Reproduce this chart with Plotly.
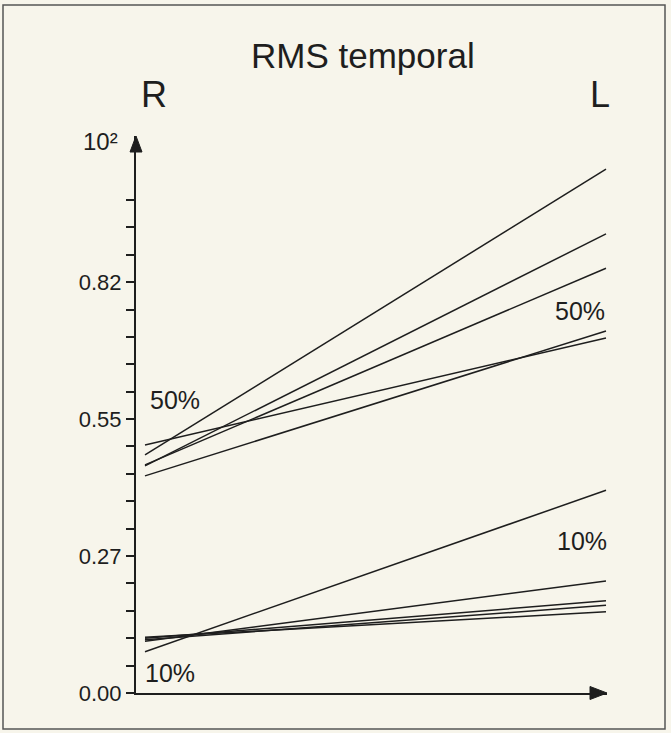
import plotly.graph_objects as go

# ---- data ----
sides = ["R", "L"]
group50_R = [0.478, 0.456, 0.458, 0.498, 0.436]
group50_L = [1.052, 0.922, 0.853, 0.713, 0.727]
group10_R = [0.083, 0.104, 0.110, 0.107, 0.112]
group10_L = [0.407, 0.225, 0.185, 0.176, 0.163]
tick_vals = [0.0, 0.275, 0.55, 0.825]
tick_text = ["0.00", "0.27", "0.55", "0.82"]
minor_vals = [0.055, 0.11, 0.165, 0.22, 0.33, 0.385, 0.44, 0.495,
              0.605, 0.66, 0.715, 0.77, 0.88, 0.935, 0.99]
top_label = "10\u00b2"

W, H = 671, 733
L_PX, R_PX, T_PX, B_PX = 136, 607, 136, 693
X0_PX, X1_PX = 145, 606          # pixel of R (x=0) and L (x=1)
PX_PER_Y = 498.0
sx = X1_PX - X0_PX
xr = [(L_PX - X0_PX) / sx, (R_PX - X0_PX) / sx]
yr = [0.0, (B_PX - T_PX) / PX_PER_Y]

def xp(px):
    return (px - L_PX) / (R_PX - L_PX)

def yp(py):
    return (B_PX - py) / (B_PX - T_PX)

INK = "#1e1e1e"
BG = "#f7f5eb"
FONT = "Liberation Sans, Arial, Helvetica, sans-serif"

fig = go.Figure()
for a, b in zip(group50_R, group50_L):
    fig.add_trace(go.Scatter(x=[0, 1], y=[a, b], mode="lines",
                             line=dict(color=INK, width=1.5), showlegend=False,
                             hoverinfo="skip"))
for a, b in zip(group10_R, group10_L):
    fig.add_trace(go.Scatter(x=[0, 1], y=[a, b], mode="lines",
                             line=dict(color=INK, width=1.5), showlegend=False,
                             hoverinfo="skip"))

fig.update_layout(
    width=W, height=H,
    margin=dict(l=L_PX, r=W - R_PX, t=T_PX, b=H - B_PX, pad=0),
    paper_bgcolor=BG, plot_bgcolor=BG,
    font=dict(family=FONT, color=INK),
    showlegend=False,
    xaxis=dict(range=xr, showgrid=False, zeroline=False, showticklabels=False,
               ticks="", showline=True, linecolor=INK, linewidth=2),
    yaxis=dict(range=yr, showgrid=False, zeroline=False, showline=True,
               linecolor=INK, linewidth=2,
               tickmode="array", tickvals=tick_vals, ticktext=tick_text,
               ticks="outside", ticklen=8, tickwidth=1.5, tickcolor=INK,
               tickfont=dict(size=22, family=FONT, color=INK),
               minor=dict(tickmode="array", tickvals=minor_vals, ticks="outside",
                          ticklen=8, tickwidth=1.5, tickcolor=INK, showgrid=False)),
)

shapes = [
    # y-axis arrowhead
    dict(type="path", xref="paper", yref="paper", xsizemode="pixel", ysizemode="pixel",
         xanchor=0, yanchor=1, path="M-6,-16 L6,-16 L0,0 Z",
         fillcolor=INK, line=dict(color=INK, width=1)),
    # x-axis arrowhead
    dict(type="path", xref="paper", yref="paper", xsizemode="pixel", ysizemode="pixel",
         xanchor=1, yanchor=0, path="M0,0 L-17,6.5 L-17,-6.5 Z",
         fillcolor=INK, line=dict(color=INK, width=1)),
    # frame
    dict(type="rect", xref="paper", yref="paper", x0=xp(3), x1=xp(665),
         y0=yp(729), y1=yp(5), line=dict(color="#555555", width=1.5)),
]
fig.update_layout(shapes=shapes)

ann = []
ann.append(dict(xref="paper", yref="paper", x=xp(363), y=yp(56), text="RMS temporal",
                showarrow=False, font=dict(size=35), xanchor="center", yanchor="middle"))
ann.append(dict(xref="paper", yref="paper", x=xp(154), y=yp(95), text=sides[0],
                showarrow=False, font=dict(size=36), xanchor="center", yanchor="middle"))
ann.append(dict(xref="paper", yref="paper", x=xp(600), y=yp(95), text=sides[1],
                showarrow=False, font=dict(size=36), xanchor="center", yanchor="middle"))
ann.append(dict(xref="paper", yref="paper", x=xp(120), y=yp(141), text=top_label,
                showarrow=False, font=dict(size=24), xanchor="right", yanchor="middle"))

def xd(px):
    return (px - X0_PX) / sx

def yd(py):
    return (B_PX - py) / PX_PER_Y

for txt, px, py in [("50%", 175, 400), ("50%", 580, 311), ("10%", 582, 541), ("10%", 170, 673)]:
    ann.append(dict(x=xd(px), y=yd(py), text=txt, showarrow=False,
                    font=dict(size=25), xanchor="center", yanchor="middle"))
fig.update_layout(annotations=ann)

fig.write_html("out.html", config={"displayModeBar": False},
               post_script="document.body.style.margin='0';document.body.style.padding='0';"
                           "document.body.style.background='" + BG + "';")
